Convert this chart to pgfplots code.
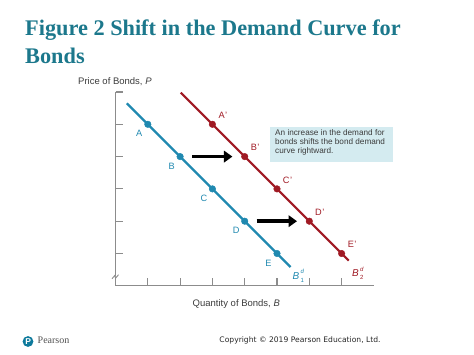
\documentclass[border=0pt]{standalone}
\usepackage{pgfplots}
\pgfplotsset{compat=1.18}
\usepackage{fontspec}
\setmainfont{Liberation Sans}
\newfontfamily\titlefont{Liberation Serif}
\newfontfamily\verdana{DejaVu Sans}
\usetikzlibrary{arrows.meta}
\definecolor{titleteal}{RGB}{28,120,140}
\definecolor{bluecurve}{RGB}{32,137,176}
\definecolor{redcurve}{RGB}{160,26,36}
\definecolor{axisgray}{RGB}{140,140,140}
\definecolor{boxfill}{RGB}{212,235,240}
\definecolor{txtgray}{RGB}{60,60,60}
\definecolor{logoteal}{RGB}{14,122,156}
\newcommand\Bd[1]{\textit{B}\kern1.2pt\rlap{\raisebox{5.4pt}{\fontsize{6}{6}\selectfont\textit{d}}}\raisebox{-3.2pt}{\fontsize{6}{6}\selectfont #1}}
\begin{document}
\begin{tikzpicture}[x=1pt,y=1pt]
\path[use as bounding box] (0pt,0pt) rectangle (474pt,355pt);
% title
\node[anchor=base west, inner sep=0, text=titleteal, font=\titlefont\bfseries\fontsize{22.3}{27}\selectfont] at (25pt,319pt) {Figure 2 Shift in the Demand Curve for};
\node[anchor=base west, inner sep=0, text=titleteal, font=\titlefont\bfseries\fontsize{22.3}{27}\selectfont] at (25pt,291.7pt) {Bonds};
% text box
\fill[boxfill] (270pt,228.3pt) rectangle (393.3pt,193.3pt);
\node[anchor=north west, inner sep=0, align=left, text=txtgray, font=\fontsize{8.2}{9}\selectfont] at (275pt,225.8pt) {An increase in the demand for\\bonds shifts the bond demand\\curve rightward.};
\begin{axis}[
  at={(115.5pt,69.2pt)}, anchor=south west,
  x=32.3pt, y=32.3pt,
  xmin=0, xmax=8, ymin=0, ymax=6,
  axis x line=bottom, axis y line=left,
  axis line style={-, draw=axisgray, line width=1.2pt},
  xtick={1,...,7}, ytick={1,...,6},
  xticklabels={}, yticklabels={},
  xtick align=inside, ytick align=inside,
  major tick length=7.5pt,
  every tick/.style={draw=axisgray, line width=1.1pt},
  clip=false,
  xlabel={}, ylabel={},
]
% demand curve B1
\addplot[bluecurve, line width=2.2pt] coordinates {(0.35,5.65) (5.42,0.58)};
\addplot[only marks, mark=*, mark size=3.3pt, mark options={fill=bluecurve, draw=bluecurve}] coordinates {(1,5) (2,4) (3,3) (4,2) (5,1)};
% demand curve B2
\addplot[redcurve, line width=2.2pt] coordinates {(2.02,5.98) (7.22,0.78)};
\addplot[only marks, mark=*, mark size=3.3pt, mark options={fill=redcurve, draw=redcurve}] coordinates {(3,5) (4,4) (5,3) (6,2) (7,1)};
% shift arrows
\addplot[black, line width=3.6pt, -{Triangle[length=8.5pt,width=11.5pt]}] coordinates {(2.38,4) (3.62,4)};
\addplot[black, line width=3.6pt, -{Triangle[length=8.5pt,width=11.5pt]}] coordinates {(4.37,2) (5.62,2)};
% point labels
\foreach \px/\py/\lab in {1/5/A,2/4/B,3/3/C,4/2/D,5/1/E}{
  \edef\tmp{\noexpand\node[text=bluecurve, font=\noexpand\fontsize{9.2}{9}\noexpand\selectfont] at (axis cs:\px,\py) [xshift=-8.5pt, yshift=-9.5pt] {\lab};}
  \tmp
}
\foreach \px/\py/\lab in {3/5/A,4/4/B,5/3/C,6/2/D,7/1/E}{
  \edef\tmp{\noexpand\node[text=redcurve, font=\noexpand\fontsize{9.2}{9}\noexpand\selectfont] at (axis cs:\px,\py) [xshift=10.5pt, yshift=9pt] {\lab\noexpand\kern0.5pt’};}
  \tmp
}
\node[text=bluecurve, font=\fontsize{10}{10}\selectfont] at (axis cs:5.66,0.31) {\Bd{1}};
\node[text=redcurve, font=\fontsize{10}{10}\selectfont] at (axis cs:7.5,0.38) {\Bd{2}};
% axis break
\draw[axisgray, line width=0.9pt, fill=white] (axis cs:0,0.28) ++(-3.5pt,-2pt) -- ++(3pt,3.5pt) -- ++(0.5pt,-3pt) -- ++(3pt,3.5pt);
\end{axis}
% axis labels
\node[anchor=west, inner sep=0, text=txtgray, font=\fontsize{9.5}{10}\selectfont] at (78pt,273.3pt) {Price of Bonds, \textit{P}};
\node[inner sep=0, text=txtgray, font=\fontsize{9.5}{10}\selectfont] at (236.3pt,51pt) {Quantity of Bonds, \textit{B}};
% footer
\fill[logoteal] (28pt,13.5pt) circle (5.4pt);
\node[text=white, inner sep=0, font=\bfseries\fontsize{8.5}{8}\selectfont] at (28.3pt,13.5pt) {P};
\node[anchor=base west, inner sep=0, text=txtgray!90, font=\titlefont\fontsize{10}{10}\selectfont] at (37.5pt,11.5pt) {Pearson};
\node[inner sep=0, text=black!85, font=\verdana\fontsize{7.6}{8}\selectfont] at (300pt,15pt) {Copyright © 2019 Pearson Education, Ltd.};
\end{tikzpicture}
\end{document}
